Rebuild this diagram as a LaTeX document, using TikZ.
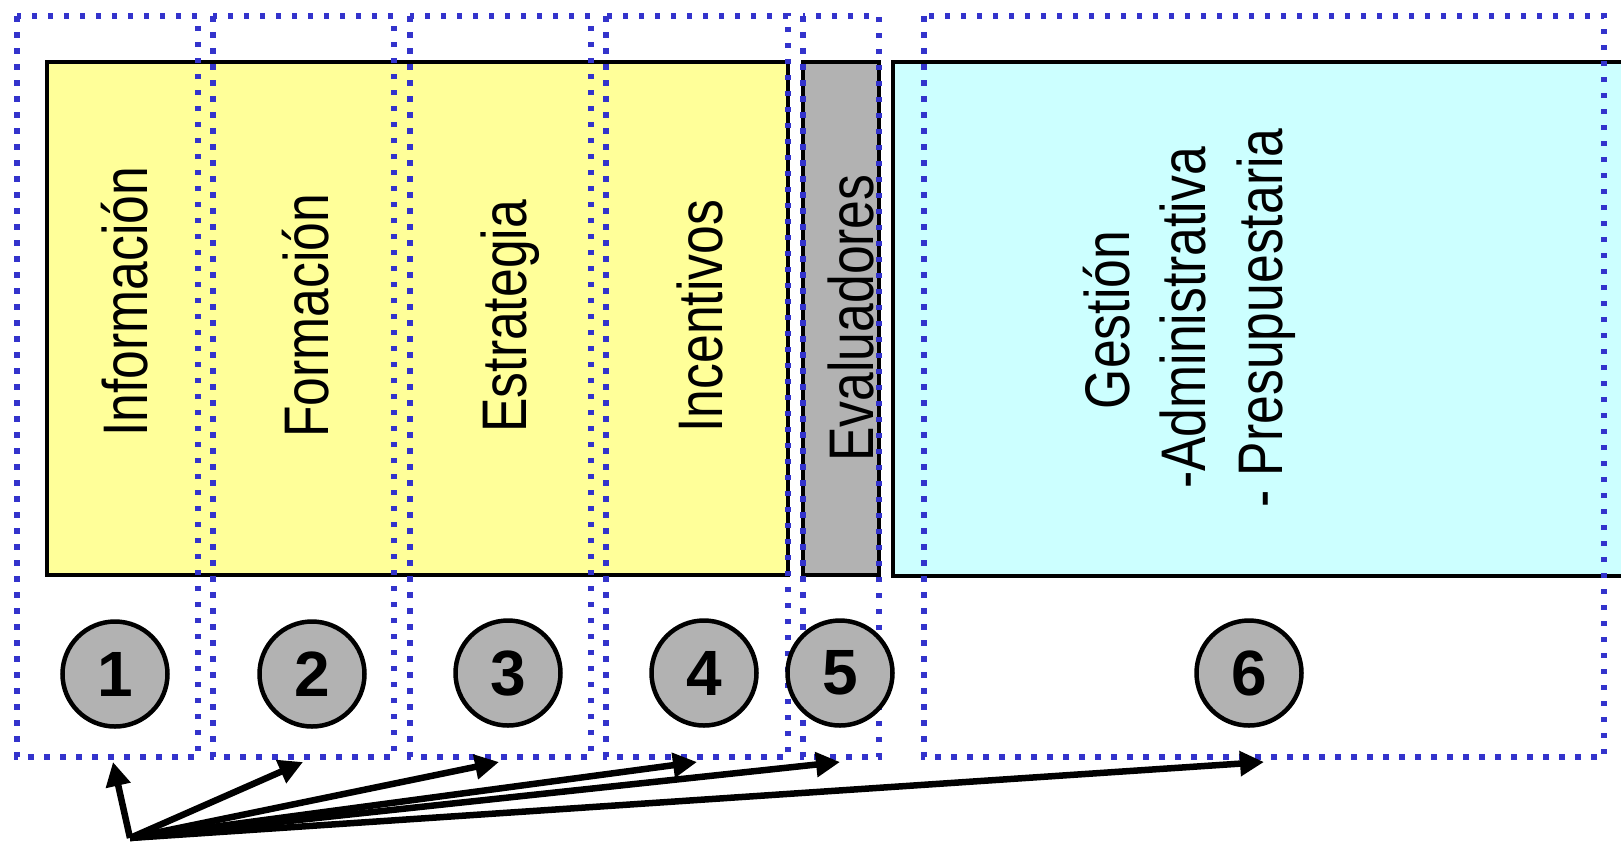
\documentclass[tikz,border=0pt]{standalone}
\usepackage{fontspec}
\newfontfamily\labfont[FakeStretch=0.82]{Liberation Sans}
\newfontfamily\numfont{Liberation Sans}
\usetikzlibrary{arrows.meta}
\definecolor{dotblue}{RGB}{51,51,204}
\definecolor{paleyellow}{RGB}{255,255,153}
\definecolor{palecyan}{RGB}{204,255,255}
\definecolor{midgray}{RGB}{178,178,178}
\tikzset{
  panel/.style={draw=black, line width=2.25pt},
  dotbox/.style={draw=dotblue, line width=2.75pt, dash pattern=on 2.75pt off 5.25pt},
  vlabel/.style={rotate=90, inner sep=0pt, font=\labfont\fontsize{31.5pt}{37.8pt}\selectfont},
  numcircle/.style={circle, draw=black, line width=2.25pt, fill=midgray, minimum size=52.5pt, inner sep=0pt,
     font=\numfont\bfseries\fontsize{32pt}{38pt}\selectfont},
  arr/.style={draw=black, line width=3.25pt, -{Triangle[length=12pt 0 0, width=12pt 0 0]}}
}
\begin{document}
\begin{tikzpicture}[x=0.5pt, y=-0.5pt]
\useasboundingbox (0,0) rectangle (1621,842);
\begin{scope}
\clip (0,0) rectangle (1621,842);
% panels
\draw[panel, fill=paleyellow] (47,62) rectangle (788,575);
\draw[panel, fill=midgray] (803,62) rectangle (879,575);
\draw[panel, fill=palecyan] (893,62) rectangle (1660,576);
\end{scope}
% labels
\node[vlabel, anchor=base west] (tinfo) at (147,437) {Información};
\node[vlabel, anchor=base west] (tform) at (328,438) {Formación};
\node[vlabel, anchor=base west] (testr) at (526,433) {Estrategia};
\node[vlabel, anchor=base west] (tince) at (722,433) {Incentivos};
\node[vlabel, anchor=base west] (teval) at (873,462) {Evaluadores};
\node[vlabel, anchor=base] (tgest) at (1129,320) {Gestión};
\node[vlabel, anchor=base] (tadmi) at (1205,318) {-Administrativa};
\node[vlabel, anchor=base] (tpres) at (1282,318) {- Presupuestaria};
% dotted boxes
\draw[dotbox] (17,16) rectangle (198,757);
\draw[dotbox] (213,16) rectangle (394,757);
\draw[dotbox] (410,16) rectangle (591,757);
\draw[dotbox] (606,16) rectangle (788,757);
\draw[dotbox] (803,16) rectangle (879,757);
\draw[dotbox] (924,16) rectangle (1604,757);
% numbered circles
\node[numcircle] (c1) at (115,674) {1};
\node[numcircle] (c2) at (312,674) {2};
\node[numcircle] (c3) at (508,673) {3};
\node[numcircle] (c4) at (704,673) {4};
\node[numcircle] (c5) at (840,673) {5};
\node[numcircle] (c6) at (1249,673) {6};
% arrows
\coordinate (o) at (130,838);
\coordinate (t1) at (113,762);
\coordinate (t2) at (303,762);
\coordinate (t3) at (499,762);
\coordinate (t4) at (697,762);
\coordinate (t5) at (840,762);
\coordinate (t6) at (1264,762);
\foreach \t in {t1,t2,t3,t4,t5,t6} { \draw[arr] (o) -- (\t); }
\end{tikzpicture}
\end{document}
